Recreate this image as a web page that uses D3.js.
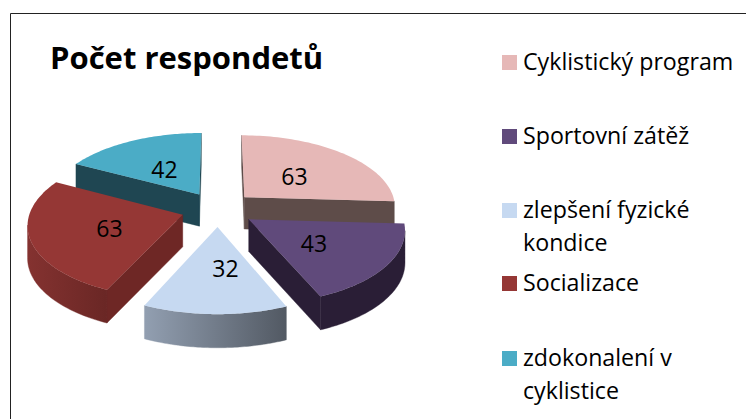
<!DOCTYPE html>
<html><head><meta charset="utf-8">
<script src="https://cdn.jsdelivr.net/npm/d3@7/dist/d3.min.js"></script>
<style>html,body{margin:0;padding:0;background:#fff}svg{display:block}text{font-family:"Open Sans","Noto Sans",sans-serif;fill:#000}</style>
</head><body><svg id="c" width="746" height="419"></svg>
<script>
const categories = ["Cyklistický program","Sportovní zátěž","zlepšení fyzické kondice","Socializace","zdokonalení v cyklistice"];
const values = [63,43,32,63,42];
const titleText = "Počet respondetů";
const topColors = ["#E6B8B7","#604A7B","#C6D9F1","#953735","#4BACC6"];
const edgeColors = ["#5E4C49","#2A1E36","#8E9BAD","#6E2725","#1F4652"];
const rimColors = [["#5E4C49","#5E4C49"],["#2A1E36","#2A1E36"],["#929FB1","#525963"],["#843230","#6A2725"],["#1F4652","#1F4652"]];
const legendLines = [["Cyklistický program"],["Sportovní zátěž"],["zlepšení fyzické","kondice"],["Socializace"],["zdokonalení v","cyklistice"]];
const legendY = [62,136,210,283,358];
const labelNudgeX = [0,0,9,0,0];

const W=746,H=419;
const svg=d3.select("#c");
const cx=218,cy=209,Rx=152,Ry=72,persp=0.12,depth=32,explode=0.243,labelR=0.49,labelDrop=2.5;
function proj(X,Y,drop){const w=1/(1-persp*Y);return [cx+Rx*X*w,cy+Ry*Y*w+drop*Math.pow(w,0.3)];}
const arcs=d3.pie().sort(null).startAngle(0).endAngle(2*Math.PI)(values);
const defs=svg.append("defs");
const line=d3.line();

svg.append("path").attr("d",`M10.5,${H} V13.5 H${W}`).attr("fill","none").attr("stroke","#222").attr("stroke-width",1);

const order=[4,0,3,1,2];
order.forEach(i=>{
  const a=arcs[i],mid=(a.startAngle+a.endAngle)/2;
  const ox=explode*Math.sin(mid),oy=-explode*Math.cos(mid);
  const pts=[];
  const n=60;
  const sweep=d3.scaleLinear().domain([0,n]).range([a.startAngle,a.endAngle]);
  d3.range(n+1).forEach(k=>{const t=sweep(k);pts.push([ox+Math.sin(t),oy-Math.cos(t)]);});
  const apex=[ox,oy];
  const g=svg.append("g");
  const wall=(seg,fill)=>{
    const top=seg.map(p=>proj(p[0],p[1],0));
    const bot=seg.map(p=>proj(p[0],p[1],depth)).reverse();
    g.append("path").attr("d",line(top.concat(bot))+"Z").attr("fill",fill).attr("stroke",fill).attr("stroke-width",0.4);
  };
  const screenX=p=>proj(p[0],p[1],0)[0];
  if(screenX(pts[0])<screenX(apex)) wall([apex,pts[0]],edgeColors[i]);
  if(screenX(apex)<screenX(pts[n])) wall([pts[n],apex],edgeColors[i]);
  const vis=pts.filter((p,k)=>k<n&&screenX(pts[k+1])<screenX(p));
  if(vis.length){
    vis.push(pts[pts.indexOf(vis[vis.length-1])+1]);
    const id="rim"+i;
    const gr=defs.append("linearGradient").attr("id",id);
    gr.append("stop").attr("offset","0").attr("stop-color",rimColors[i][0]);
    gr.append("stop").attr("offset","1").attr("stop-color",rimColors[i][1]);
    wall(vis,`url(#${id})`);
  }
  const topPts=[apex].concat(pts).map(p=>proj(p[0],p[1],0));
  g.append("path").attr("d",line(topPts)+"Z").attr("fill",topColors[i]);
  const lp=proj(ox+labelR*Math.sin(mid),oy-labelR*Math.cos(mid),0);
  g.append("text").attr("x",lp[0]+labelNudgeX[i]).attr("y",lp[1]+labelDrop).attr("dy","0.35em").attr("text-anchor","middle").attr("font-size",23).text(values[i]);
});

svg.append("text").attr("x",50).attr("y",69).attr("font-size",31).attr("font-weight",700).text(titleText);

categories.forEach((c,i)=>{
  const y=legendY[i];
  svg.append("rect").attr("x",502).attr("y",y-7).attr("width",15).attr("height",15).attr("fill",topColors[i]);
  legendLines[i].forEach((t,j)=>{
    svg.append("text").attr("x",523).attr("y",y+8+j*33).attr("font-size",23.2).text(t);
  });
});
</script></body></html>
